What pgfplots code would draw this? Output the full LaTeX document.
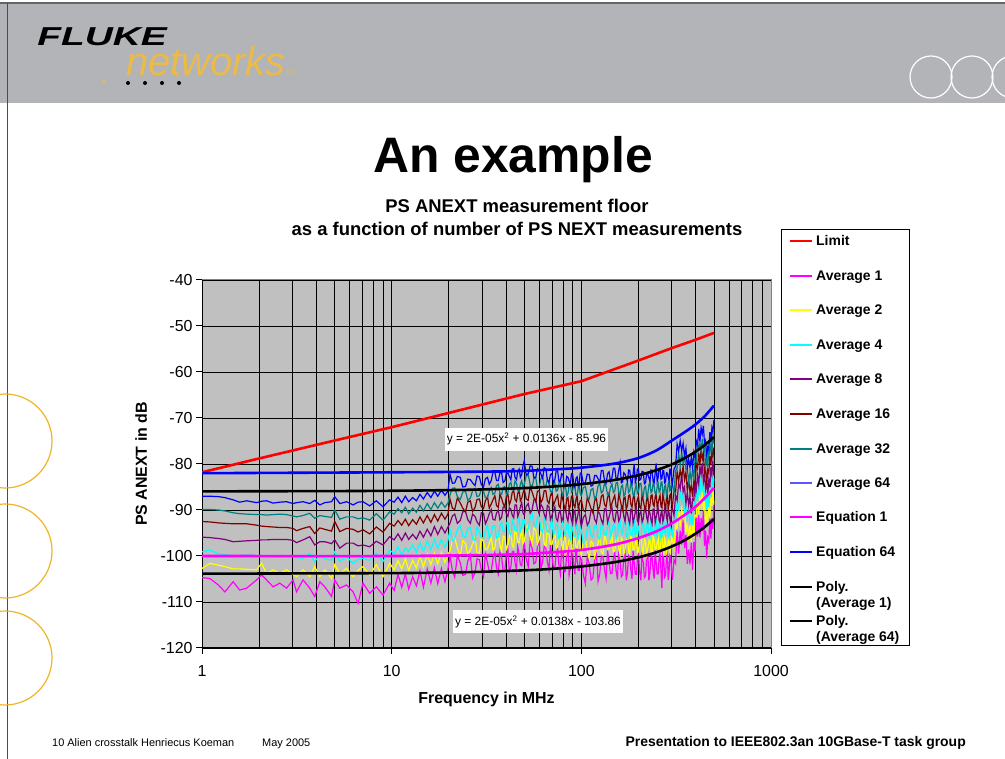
\documentclass[border=0pt]{standalone}
\usepackage{fontspec}
\setmainfont{Liberation Sans}
\usepackage{pgfplots}
\usepackage{pgfplotstable}
\pgfplotsset{compat=1.18}

\definecolor{plotgray}{RGB}{192,192,192}
\definecolor{bandgray}{RGB}{178,180,184}
\definecolor{slidegold}{RGB}{240,182,40}
\definecolor{netgold}{RGB}{236,186,72}
\definecolor{av1}{RGB}{255,0,255}
\definecolor{av2}{RGB}{255,255,0}
\definecolor{av4}{RGB}{0,255,255}
\definecolor{av8}{RGB}{128,0,128}
\definecolor{av16}{RGB}{128,0,0}
\definecolor{av32}{RGB}{0,128,128}
\definecolor{av64}{RGB}{0,0,255}
\definecolor{limred}{RGB}{255,0,0}

% PS ANEXT averages (MHz, dB)
\pgfplotstableread{
f a1 a2 a4 a8 a16 a32 a64
1.00 -104.7 -102.7 -99.1 -95.9 -92.5 -89.9 -87.0
1.10 -104.9 -101.6 -98.7 -96.0 -92.6 -89.9 -87.0
1.22 -106.3 -102.0 -99.5 -96.2 -92.8 -90.0 -87.1
1.32 -107.8 -102.3 -99.7 -96.4 -92.9 -90.2 -87.3
1.46 -105.6 -102.8 -100.0 -96.9 -93.0 -90.6 -87.8
1.58 -107.4 -102.8 -99.9 -96.8 -93.0 -90.8 -88.3
1.72 -107.0 -102.9 -99.8 -96.7 -93.0 -90.9 -88.0
1.94 -105.2 -103.0 -99.9 -96.6 -93.3 -91.0 -88.4
2.06 -104.1 -101.6 -100.0 -96.5 -93.5 -91.0 -88.1
2.19 -105.2 -103.8 -100.0 -96.5 -93.6 -91.1 -88.0
2.37 -106.7 -103.0 -100.2 -96.4 -93.7 -91.0 -88.5
2.57 -105.9 -103.8 -100.3 -96.4 -93.8 -90.9 -88.3
2.79 -107.0 -103.0 -100.0 -96.4 -93.8 -91.0 -88.2
3.02 -105.2 -104.0 -100.0 -96.6 -94.0 -91.3 -88.6
3.15 -107.8 -104.5 -100.3 -97.1 -94.5 -91.5 -88.4
3.41 -105.2 -103.0 -100.5 -96.5 -94.0 -91.2 -88.2
3.70 -107.0 -104.5 -99.4 -95.8 -93.6 -90.7 -88.6
3.93 -108.8 -102.3 -101.2 -97.6 -95.1 -91.8 -87.9
4.18 -105.6 -104.5 -99.8 -96.9 -93.9 -91.2 -88.9
4.44 -106.7 -103.0 -100.6 -96.9 -94.2 -91.4 -88.4
4.82 -108.8 -104.9 -100.9 -97.3 -94.6 -91.6 -88.2
5.01 -105.2 -101.9 -99.1 -96.5 -92.5 -90.0 -87.1
5.33 -107.0 -103.8 -101.2 -98.3 -94.7 -92.0 -88.6
5.78 -106.3 -102.7 -100.1 -97.2 -94.0 -91.5 -88.2
6.26 -107.8 -104.5 -101.6 -97.2 -94.2 -91.5 -88.9
6.65 -110.3 -103.1 -100.7 -97.8 -94.8 -91.9 -88.3
7.06 -105.9 -102.3 -100.5 -97.6 -94.3 -91.7 -88.2
7.66 -108.1 -104.1 -100.9 -98.0 -95.2 -92.2 -89.1
8.30 -106.7 -101.9 -99.4 -96.8 -93.7 -90.8 -88.0
9.00 -108.5 -104.5 -101.2 -97.6 -94.8 -92.2 -89.3
9.76 -105.9 -101.6 -98.7 -95.8 -92.9 -90.4 -87.8
10.3 -107.5 -103.0 -99.5 -96.5 -93.5 -90.9 -88.3
10.8 -104.0 -101.0 -98.0 -95.2 -92.3 -89.7 -87.2
11.3 -106.8 -102.8 -99.8 -96.6 -93.3 -90.6 -88.4
11.8 -103.9 -100.6 -98.3 -95.0 -92.0 -89.4 -87.0
12.3 -107.2 -103.2 -99.0 -96.4 -93.4 -90.8 -88.2
12.9 -104.5 -100.9 -97.6 -95.3 -92.1 -89.6 -87.3
13.5 -106.5 -102.6 -99.2 -96.3 -93.1 -90.5 -88.0
14.1 -103.2 -100.0 -97.2 -94.6 -91.5 -89.0 -86.6
14.7 -106.8 -102.4 -98.9 -95.9 -92.8 -90.2 -87.6
15.4 -102.8 -99.6 -96.8 -94.2 -91.2 -88.6 -86.2
16.1 -105.9 -101.9 -98.6 -95.6 -92.7 -89.9 -87.3
16.8 -102.6 -99.4 -96.4 -93.6 -91.0 -88.4 -85.9
17.5 -106.0 -101.7 -98.3 -95.3 -92.4 -89.6 -87.0
18.3 -102.7 -99.2 -96.4 -93.6 -90.7 -88.3 -85.7
19.1 -105.6 -101.4 -98.1 -95.0 -92.0 -89.4 -86.8
19.8 -102.9 -99.6 -96.6 -93.7 -90.9 -88.5 -85.9
20.3 -100.0 -98.9 -94.2 -92.9 -87.6 -86.7 -82.2
20.9 -103.1 -96.4 -96.7 -91.3 -89.6 -85.3 -84.2
21.5 -104.6 -96.0 -96.2 -90.9 -89.9 -85.2 -84.1
22.2 -99.9 -98.3 -94.2 -92.9 -87.4 -87.1 -82.7
23.0 -101.5 -99.9 -93.4 -92.3 -88.5 -87.7 -82.9
23.7 -104.2 -96.7 -95.6 -90.4 -89.6 -86.1 -85.0
24.5 -104.0 -97.2 -96.0 -90.3 -90.4 -85.9 -84.9
25.2 -101.1 -99.8 -94.0 -92.1 -88.3 -87.9 -83.3
26.0 -99.8 -98.6 -93.8 -92.9 -88.0 -87.4 -83.4
26.7 -104.8 -97.4 -96.2 -90.9 -90.3 -85.8 -84.1
27.5 -103.6 -96.0 -96.7 -91.4 -89.5 -85.3 -84.7
28.2 -100.6 -99.2 -93.7 -92.6 -87.7 -87.1 -82.6
29.0 -100.8 -99.6 -94.9 -93.3 -87.6 -86.9 -82.8
29.7 -103.0 -96.0 -96.0 -90.6 -89.3 -85.4 -84.5
30.5 -104.5 -96.9 -96.1 -90.7 -89.7 -86.0 -85.0
31.2 -99.6 -98.6 -94.5 -93.0 -88.0 -87.3 -83.2
32.0 -101.5 -98.5 -93.2 -92.0 -87.1 -87.3 -82.9
32.7 -103.4 -97.2 -96.2 -90.8 -89.6 -85.9 -84.4
33.5 -103.3 -95.9 -95.2 -89.9 -88.7 -85.1 -83.6
34.2 -100.6 -98.7 -93.5 -92.0 -87.8 -86.6 -81.8
35.0 -99.3 -98.2 -93.4 -92.2 -86.9 -86.3 -81.8
35.7 -102.5 -95.8 -96.1 -90.7 -89.0 -84.7 -83.6
36.5 -103.9 -95.5 -95.7 -90.0 -89.4 -84.4 -83.6
37.2 -99.1 -97.5 -93.4 -92.1 -86.6 -86.3 -81.9
38.0 -100.3 -99.0 -92.7 -91.6 -87.5 -86.6 -81.9
38.7 -103.2 -95.7 -94.6 -89.4 -88.6 -85.1 -84.0
39.5 -103.2 -95.9 -94.7 -89.2 -89.3 -84.9 -83.7
40.2 -99.9 -98.6 -92.8 -90.9 -87.1 -86.7 -82.1
41.0 -98.5 -97.5 -92.7 -91.4 -86.6 -86.2 -82.0
41.7 -103.4 -96.0 -94.8 -89.5 -88.9 -84.4 -82.7
42.5 -102.4 -94.6 -95.5 -89.8 -87.9 -84.0 -83.4
43.2 -99.1 -97.7 -92.2 -91.1 -86.2 -85.6 -81.1
44.0 -99.0 -98.2 -93.1 -91.7 -85.8 -85.4 -81.0
44.7 -101.4 -94.3 -94.4 -88.9 -87.7 -83.7 -82.9
45.5 -103.1 -95.1 -94.6 -88.9 -88.2 -84.2 -83.4
46.2 -98.0 -97.0 -92.9 -91.4 -86.4 -85.7 -81.6
47.0 -99.7 -97.1 -91.6 -90.5 -85.7 -85.9 -81.1
47.7 -101.9 -95.7 -94.6 -89.3 -88.0 -84.4 -82.9
48.5 -102.1 -94.2 -93.9 -88.4 -87.4 -83.6 -82.3
49.2 -99.2 -97.3 -92.1 -90.6 -86.4 -85.2 -80.5
50.0 -97.1 -96.8 -92.1 -91.1 -85.5 -84.4 -79.3
51.2 -100.6 -93.9 -94.7 -89.2 -87.6 -82.6 -82.4
52.5 -102.3 -93.3 -94.0 -88.6 -87.9 -82.4 -82.1
53.7 -96.6 -95.7 -91.7 -90.7 -84.9 -84.4 -80.4
55.0 -98.3 -97.4 -90.7 -90.0 -86.1 -85.0 -80.5
56.2 -101.7 -93.9 -93.2 -87.8 -87.3 -83.2 -83.0
57.5 -101.4 -94.4 -93.7 -87.7 -88.2 -83.0 -82.9
58.7 -97.9 -97.4 -91.5 -89.8 -85.9 -85.3 -81.0
60.0 -96.6 -96.3 -91.5 -90.9 -85.8 -84.9 -81.4
61.2 -102.7 -95.0 -94.2 -88.8 -88.4 -83.2 -82.2
62.5 -101.3 -93.6 -94.9 -89.4 -87.7 -82.7 -83.1
63.7 -97.9 -97.3 -91.6 -90.9 -85.8 -85.0 -80.8
65.0 -98.3 -97.9 -93.1 -91.9 -85.8 -84.8 -81.1
66.2 -101.2 -94.1 -94.6 -89.0 -88.0 -83.3 -83.4
67.5 -103.1 -95.3 -94.9 -89.3 -88.6 -84.2 -84.1
68.7 -97.5 -97.4 -93.3 -92.1 -86.9 -86.0 -82.3
70.0 -100.0 -97.5 -92.1 -91.2 -86.1 -86.2 -82.1
71.2 -102.5 -96.2 -95.6 -90.1 -89.0 -84.8 -84.1
72.5 -102.5 -94.9 -94.7 -89.3 -88.2 -84.0 -83.4
73.7 -99.6 -98.3 -93.0 -91.9 -87.4 -85.9 -81.5
75.0 -98.4 -98.1 -93.4 -92.4 -86.8 -85.7 -81.5
76.2 -102.1 -95.3 -96.2 -90.6 -89.1 -84.1 -83.8
77.5 -103.9 -94.9 -95.6 -90.2 -89.5 -84.0 -83.7
78.7 -98.3 -97.4 -93.4 -92.4 -86.6 -86.1 -82.1
80.0 -100.1 -99.2 -92.5 -91.8 -87.9 -86.8 -82.3
81.2 -103.5 -95.7 -95.0 -89.6 -89.1 -85.0 -84.8
82.5 -103.2 -96.2 -95.5 -89.5 -90.0 -84.8 -84.7
83.7 -99.6 -99.1 -93.2 -91.5 -87.6 -87.0 -82.7
85.0 -98.1 -97.8 -93.0 -92.4 -87.3 -86.4 -82.9
86.2 -104.2 -96.5 -95.7 -90.2 -89.9 -84.7 -83.7
87.5 -102.7 -95.0 -96.3 -90.8 -89.1 -84.1 -84.5
88.7 -99.1 -98.5 -92.9 -92.2 -87.0 -86.2 -82.1
90.0 -99.4 -99.0 -94.2 -93.0 -86.9 -85.9 -82.2
91.2 -102.2 -95.1 -95.6 -90.0 -89.0 -84.3 -84.4
92.5 -104.0 -96.2 -95.8 -90.2 -89.5 -85.1 -85.0
93.7 -98.3 -98.2 -94.1 -92.9 -87.7 -86.8 -83.1
95.0 -100.7 -98.2 -92.8 -91.9 -86.8 -86.9 -82.8
96.2 -103.1 -96.9 -96.2 -90.7 -89.7 -85.4 -84.7
97.5 -103.1 -95.5 -95.3 -89.9 -88.8 -84.6 -84.0
98.7 -100.1 -98.8 -93.6 -92.4 -88.0 -86.5 -82.0
100 -100.3 -99.9 -94.4 -93.6 -87.8 -86.9 -81.9
102.5 -104.1 -96.8 -97.2 -91.6 -90.1 -85.1 -84.3
105 -106.0 -96.3 -96.5 -91.0 -90.4 -84.9 -84.0
107.5 -99.9 -98.8 -94.1 -93.3 -87.3 -87.1 -82.2
110 -101.7 -100.6 -93.0 -92.5 -88.5 -87.6 -82.3
112.5 -105.2 -96.8 -95.5 -90.1 -89.7 -85.6 -84.8
115 -104.8 -97.2 -95.9 -89.9 -90.6 -85.3 -84.6
117.5 -100.9 -100.2 -93.4 -92.0 -88.0 -87.6 -82.5
120 -99.2 -98.7 -93.1 -92.8 -87.5 -86.9 -82.5
122.5 -105.5 -97.2 -95.8 -90.3 -90.1 -84.8 -83.2
125 -103.9 -95.6 -96.4 -90.8 -89.2 -84.2 -84.0
127.5 -100.0 -99.2 -92.7 -92.2 -87.0 -86.3 -81.4
130 -100.2 -99.5 -94.0 -93.0 -86.7 -85.9 -81.4
132.5 -103.0 -95.4 -95.4 -89.7 -88.8 -84.1 -83.6
135 -104.9 -96.5 -95.5 -89.8 -89.3 -84.9 -84.2
137.5 -98.8 -98.5 -93.7 -92.7 -87.3 -86.6 -82.1
140 -101.3 -98.4 -92.2 -91.5 -86.3 -86.7 -81.7
142.5 -103.8 -97.0 -95.8 -90.3 -89.4 -85.1 -83.8
145 -103.8 -95.7 -94.8 -89.4 -88.5 -84.3 -83.0
147.5 -100.6 -99.1 -93.0 -92.1 -87.6 -86.2 -80.9
150 -99.3 -98.9 -93.4 -92.6 -86.8 -85.9 -80.9
152.5 -103.2 -95.9 -96.2 -90.6 -89.2 -84.1 -83.3
155 -105.1 -95.4 -95.6 -90.1 -89.5 -84.0 -83.1
157.5 -99.0 -98.0 -93.2 -92.4 -86.5 -86.2 -81.4
160 -100.9 -99.8 -92.2 -91.7 -87.7 -86.8 -79.8
162.5 -104.5 -96.1 -94.8 -89.4 -89.0 -84.9 -84.1
165 -104.1 -96.6 -95.2 -89.2 -89.9 -84.6 -83.9
167.5 -100.3 -99.6 -92.8 -91.4 -87.4 -87.0 -81.9
170 -98.9 -98.4 -92.8 -92.5 -87.2 -86.6 -82.2
172.5 -105.3 -97.0 -95.6 -90.1 -89.9 -84.6 -83.0
175 -103.7 -95.4 -96.2 -90.7 -89.0 -84.0 -83.8
177.5 -99.9 -99.1 -92.6 -92.1 -86.9 -86.2 -81.3
180 -100.2 -99.5 -94.0 -93.0 -86.7 -85.9 -81.4
182.5 -103.1 -95.4 -95.4 -89.8 -88.8 -84.2 -83.7
185 -105.0 -96.6 -95.6 -89.9 -89.4 -85.0 -84.3
187.5 -98.9 -98.6 -93.8 -92.8 -87.4 -86.7 -82.2
190 -101.5 -98.6 -92.4 -91.7 -86.5 -86.9 -80.0
192.5 -104.0 -97.2 -96.0 -90.5 -89.6 -85.3 -84.0
195 -104.0 -95.9 -95.0 -89.6 -88.7 -84.5 -83.2
197.5 -100.8 -99.3 -93.2 -92.3 -87.8 -86.4 -81.1
200 -99.5 -99.1 -93.6 -92.8 -87.0 -86.1 -81.1
203 -103.4 -96.1 -96.4 -90.8 -89.4 -84.3 -83.5
206 -105.3 -95.6 -95.8 -90.3 -89.7 -84.2 -83.3
209 -99.2 -98.2 -93.4 -92.6 -86.7 -86.4 -81.6
212 -101.1 -100.0 -92.4 -91.9 -87.9 -87.0 -81.7
215 -104.7 -96.3 -95.0 -89.6 -89.2 -85.1 -84.3
218 -104.3 -96.8 -95.4 -89.4 -90.1 -84.8 -84.1
221 -100.5 -99.8 -93.0 -91.6 -87.6 -87.2 -82.1
224 -98.9 -98.4 -92.8 -92.5 -87.2 -86.6 -82.2
227 -105.3 -97.0 -95.6 -90.1 -89.9 -84.6 -83.0
230 -103.7 -95.4 -96.2 -90.7 -89.0 -84.0 -83.8
233 -99.9 -99.1 -92.6 -92.1 -86.9 -86.2 -81.3
236 -100.2 -99.5 -94.0 -93.0 -86.7 -85.9 -81.4
239 -103.1 -95.4 -95.4 -89.8 -88.8 -84.2 -83.7
242 -104.9 -96.5 -95.5 -89.8 -89.2 -84.7 -84.1
245 -98.8 -98.5 -93.7 -92.7 -87.2 -86.4 -82.0
248 -101.4 -98.5 -92.3 -91.6 -86.3 -86.6 -79.9
251 -103.9 -97.1 -95.9 -90.4 -89.4 -85.0 -83.8
254 -103.9 -95.8 -94.9 -89.5 -88.5 -84.2 -83.0
257 -100.7 -99.2 -93.1 -92.2 -87.6 -86.1 -80.9
260 -99.4 -99.0 -93.5 -92.7 -86.8 -85.8 -80.9
263 -103.3 -96.0 -96.3 -90.7 -89.2 -84.0 -83.3
266 -107.0 -95.5 -95.7 -90.2 -89.5 -83.9 -83.1
269 -99.1 -98.1 -93.3 -92.5 -86.5 -86.1 -81.4
272 -101.0 -99.9 -92.3 -91.8 -87.7 -86.7 -81.5
275 -104.6 -96.2 -94.9 -89.5 -89.0 -84.8 -84.1
278 -104.2 -96.7 -95.3 -89.3 -89.9 -84.5 -83.9
281 -100.4 -99.7 -92.9 -91.5 -87.4 -86.9 -81.9
284 -98.8 -98.3 -92.7 -92.4 -87.0 -86.3 -82.0
287 -105.2 -96.9 -95.5 -90.0 -89.7 -84.3 -82.8
290 -103.6 -95.3 -96.1 -90.6 -88.8 -83.7 -83.6
293 -99.8 -99.0 -92.5 -92.0 -86.7 -85.9 -81.1
296 -100.1 -99.4 -93.9 -92.9 -86.5 -85.6 -81.2
299 -103.0 -95.3 -95.3 -89.7 -88.6 -83.9 -83.5
302 -105.2 -96.4 -95.6 -89.7 -89.3 -84.6 -84.3
308 -100.8 -98.1 -91.6 -91.2 -85.6 -86.2 -81.1
314 -101.6 -93.1 -92.5 -86.8 -86.0 -81.5 -80.5
320 -94.2 -94.1 -88.4 -87.9 -81.7 -80.8 -75.7
326 -99.5 -89.4 -89.8 -84.1 -83.7 -77.7 -77.2
332 -94.5 -93.6 -85.6 -85.4 -81.2 -80.4 -74.9
338 -97.5 -89.6 -88.4 -82.1 -83.1 -77.4 -77.1
344 -92.0 -91.9 -86.0 -86.0 -80.4 -79.9 -75.5
350 -98.3 -89.6 -90.8 -85.0 -83.4 -78.0 -78.3
356 -95.4 -95.1 -89.4 -88.6 -81.8 -81.2 -76.6
362 -101.7 -92.9 -92.1 -86.2 -85.8 -81.1 -80.8
368 -98.6 -95.9 -89.4 -89.0 -83.4 -84.0 -78.9
374 -101.8 -93.3 -92.7 -87.0 -86.2 -81.7 -80.7
380 -97.1 -97.0 -91.3 -90.8 -84.6 -83.7 -78.6
386 -103.0 -92.9 -93.3 -87.6 -87.2 -81.2 -80.7
392 -97.0 -96.1 -88.1 -87.9 -83.7 -82.9 -77.4
398 -99.0 -91.1 -89.9 -83.6 -84.6 -78.9 -78.6
404 -91.5 -91.4 -85.5 -85.5 -79.9 -79.4 -75.0
410 -95.8 -87.1 -88.3 -82.5 -80.9 -75.5 -75.8
416 -91.2 -90.9 -85.2 -84.4 -77.6 -77.0 -72.4
422 -96.0 -87.2 -86.4 -80.5 -80.1 -75.4 -75.1
428 -91.8 -89.1 -82.6 -82.2 -76.6 -77.2 -72.1
434 -94.6 -86.1 -85.5 -79.8 -79.0 -74.5 -73.5
440 -90.2 -90.1 -84.4 -83.9 -77.7 -76.8 -71.7
446 -97.8 -87.7 -88.1 -82.4 -82.0 -76.0 -75.5
452 -94.5 -93.6 -85.6 -85.4 -81.2 -80.4 -74.9
458 -100.5 -91.1 -89.9 -83.6 -84.6 -78.9 -78.6
464 -96.0 -92.7 -86.8 -86.8 -81.2 -80.7 -76.3
470 -96.8 -88.1 -89.3 -83.5 -81.9 -76.5 -76.8
476 -91.9 -91.6 -85.9 -85.1 -78.3 -77.7 -73.1
482 -96.2 -87.4 -86.6 -80.7 -80.3 -75.6 -75.3
488 -91.8 -89.1 -82.6 -82.2 -76.6 -77.2 -72.1
494 -94.1 -85.6 -85.0 -79.3 -78.5 -74.0 -73.0
500 -88.9 -88.8 -83.1 -82.6 -76.4 -75.5 -70.4
}\avgdata

\begin{document}
\begin{tikzpicture}[x=1bp,y=1bp]
\useasboundingbox (0,0) rectangle (1005,759);
\fill[white] (0,0) rectangle (1005,759);
\clip (0,0) rectangle (1005,759);

% slide header
\fill[bandgray] (0,656) rectangle (1005,756);
\draw[black!60, line width=1.2bp] (0,756) -- (1005,756);
\draw[black!70, line width=1bp] (7.5,0) -- (7.5,756);
\node[anchor=base west, inner sep=0, xscale=1.5] at (37,713)
  {\fontsize{26}{26}\selectfont\bfseries\itshape FLUKE};
\node[anchor=base west, inner sep=0, text=netgold] at (126,683)
  {\fontsize{40}{40}\selectfont\itshape networks};
\node[anchor=base west, inner sep=0, text=netgold] at (286,684)
  {\fontsize{6}{6}\selectfont TM};
\fill[netgold] (104,677) circle (1.8);
\foreach \dx in {128,145,162,179} \fill[black] (\dx,676) circle (2);
\foreach \cx in {931,972,1013} \draw[white, line width=1.2bp] (\cx,682) circle (21);
\foreach \cy in {318,208,101} \draw[slidegold, line width=1.2bp] (5,\cy) circle (47);

% titles
\node[anchor=base, inner sep=0] at (513,586)
  {\fontsize{50}{60}\selectfont\bfseries An example};
\node[anchor=base, inner sep=0] at (517,546.5)
  {\fontsize{18.5}{22}\selectfont\bfseries PS ANEXT measurement floor};
\node[anchor=base, inner sep=0] at (517,523.5)
  {\fontsize{18.5}{22}\selectfont\bfseries as a function of number of PS NEXT measurements};

\begin{axis}[
  at={(202bp,111bp)}, anchor=south west,
  width=569bp, height=368bp, scale only axis,
  xmode=log, xmin=1, xmax=1000, ymin=-120, ymax=-40,
  xtick={1,10,100,1000}, xticklabels={1,10,100,1000},
  minor xtick={2,3,...,9,20,30,...,90,200,300,...,900},
  ytick={-120,-110,...,-40},
  yticklabels={-120,-110,-100,-90,-80,-70,-60,-50,-40},
  axis x line*=bottom, axis y line*=left,
  axis line style={line width=1bp, black, -},
  tick align=outside, major tick length=6bp, minor tick length=0pt,
  tick style={black, line width=1bp},
  grid=both,
  major grid style={black, line width=0.7bp},
  minor grid style={black, line width=0.7bp},
  axis background/.style={fill=plotgray},
  ticklabel style={font=\fontsize{16}{19}\selectfont},
  xticklabel style={yshift=-8bp},
  xlabel={Frequency in MHz}, ylabel={PS ANEXT in dB},
  xlabel style={at={(axis description cs:0.5,-0.139)}, anchor=center,
    font=\fontsize{16}{19}\selectfont\bfseries},
  ylabel style={at={(axis description cs:-0.107,0.5)}, anchor=center,
    font=\fontsize{16}{19}\selectfont\bfseries},
]

\addplot[limred, line width=2.6bp] coordinates {
  (1,-81.8) (2,-78.8) (5,-74.9) (10,-72.0) (20,-68.9) (50,-64.8)
  (100,-62.0) (200,-57.5) (300,-54.8) (400,-53.0) (500,-51.5)};

\addplot[av1, line width=1.2bp] table[x=f, y=a1] {\avgdata};
\addplot[av2, line width=1.2bp] table[x=f, y=a2] {\avgdata};
\addplot[av4, line width=1.2bp] table[x=f, y=a4] {\avgdata};
\addplot[av8, line width=1.2bp] table[x=f, y=a8] {\avgdata};
\addplot[av16, line width=1.2bp] table[x=f, y=a16] {\avgdata};
\addplot[av32, line width=1.2bp] table[x=f, y=a32] {\avgdata};
\addplot[av64, line width=1.2bp] table[x=f, y=a64] {\avgdata};

\addplot[av1, line width=2.6bp, smooth] coordinates {
  (1,-100.0) (10,-100.0) (40,-99.7) (70,-99.2) (100,-98.7) (150,-97.5)
  (200,-96.1) (250,-94.6) (300,-92.9) (350,-91.1) (400,-89.3) (450,-87.3) (500,-85.2)};
\addplot[av64, line width=2.6bp, smooth] coordinates {
  (1,-82.0) (10,-81.8) (40,-81.6) (70,-81.2) (100,-80.8) (150,-79.9)
  (200,-78.7) (250,-77.0) (300,-74.9) (350,-73.1) (400,-71.4) (450,-69.5) (500,-67.3)};

\addplot[black, line width=2.6bp, smooth] coordinates {
  (1,-103.85) (10,-103.72) (20,-103.58) (30,-103.43) (50,-103.12) (70,-102.80)
  (100,-102.28) (150,-101.34) (200,-100.30) (250,-99.16) (300,-97.92)
  (350,-96.58) (400,-95.14) (450,-93.60) (500,-91.96)};
\addplot[black, line width=2.6bp, smooth] coordinates {
  (1,-85.95) (5,-85.89) (10,-85.82) (20,-85.68) (30,-85.53) (50,-85.24) (70,-84.91)
  (100,-84.40) (150,-83.47) (200,-82.44) (250,-81.31) (300,-80.08)
  (350,-78.75) (400,-77.32) (450,-75.79) (500,-74.16)};
\end{axis}

% plot area border (top and right)
\draw[black!50, line width=1bp] (202,479) -- (771,479) -- (771,111);

% trendline labels
\node[fill=white, inner xsep=2bp, inner ysep=0pt, text height=15bp, text depth=8bp,
  font=\fontsize{12}{14}\selectfont] at (526.5,319.5)
  {y = 2E-05x\textsuperscript{2} + 0.0136x - 85.96};
\node[fill=white, inner xsep=2bp, inner ysep=0pt, text height=15bp, text depth=8bp,
  font=\fontsize{12}{14}\selectfont] at (538,137)
  {y = 2E-05x\textsuperscript{2} + 0.0138x - 103.86};

% legend
\draw[black, line width=1bp, fill=white] (781,113) rectangle (909,529);
\begin{scope}[every node/.style={anchor=base west, inner sep=0,
    font=\fontsize{14}{16}\selectfont\bfseries}]
\draw[limred, line width=2.6bp] (790,518) -- (812,518);
\node at (816,513) {Limit};
\draw[av1, line width=1.4bp] (790,483) -- (812,483);
\node at (816,478) {Average 1};
\draw[av2, line width=1.4bp] (790,449) -- (812,449);
\node at (816,444) {Average 2};
\draw[av4, line width=1.4bp] (790,414) -- (812,414);
\node at (816,409) {Average 4};
\draw[av8, line width=1.4bp] (790,380) -- (812,380);
\node at (816,375) {Average 8};
\draw[av16, line width=1.4bp] (790,345) -- (812,345);
\node at (816,340) {Average 16};
\draw[av32, line width=1.4bp] (790,310) -- (812,310);
\node at (816,305) {Average 32};
\draw[av64!65!white, line width=1.4bp] (790,276) -- (812,276);
\node at (816,271) {Average 64};
\draw[av1, line width=2.6bp] (790,242) -- (812,242);
\node at (816,237) {Equation 1};
\draw[av64, line width=2.6bp] (790,207) -- (812,207);
\node at (816,202) {Equation 64};
\draw[black, line width=2.6bp] (790,172) -- (812,172);
\node at (816,167) {Poly.};
\node at (816,151) {(Average 1)};
\draw[black, line width=2.6bp] (790,138) -- (812,138);
\node at (816,133) {Poly.};
\node at (816,117) {(Average 64)};
\end{scope}

% footer
\node[anchor=base west, inner sep=0] at (52,12)
  {\fontsize{11}{13}\selectfont 10 Alien crosstalk Henriecus Koeman};
\node[anchor=base west, inner sep=0] at (262,12)
  {\fontsize{11}{13}\selectfont May 2005};
\node[anchor=base east, inner sep=0] at (966,12)
  {\fontsize{14}{16}\selectfont\bfseries Presentation to IEEE802.3an 10GBase-T task group};
\end{tikzpicture}
\end{document}
